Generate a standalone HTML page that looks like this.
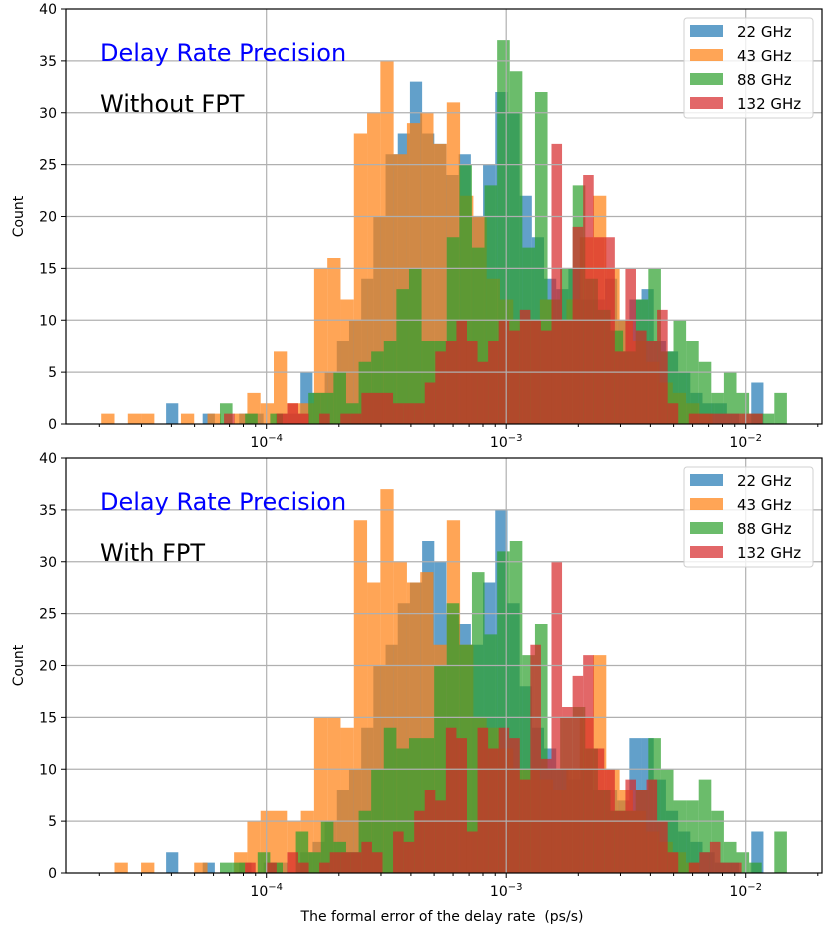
<!DOCTYPE html>
<html><head><meta charset="utf-8"><style>
html,body{margin:0;padding:0;background:#fff;}
svg{display:block;font-family:"DejaVu Sans","Liberation Sans",sans-serif;}
</style></head><body>
<svg id="chart" width="830" height="949" viewBox="0 0 830 949" xmlns="http://www.w3.org/2000/svg"></svg>
<script>
// ---- data (log10 bin starts, log10 bin widths, counts) ----
const seriesNames = ["22 GHz","43 GHz","88 GHz","132 GHz"];
const binStarts = [-4.420, -4.691, -4.195, -4.178];
const binWidths = [0.0509, 0.0555, 0.0526, 0.0441];
const topBlue = [2,0,0,1,0,0,1,1,0,1,1,5,3,5,8,10,14,20,26,28,33,28,27,24,26,20,25,32,30,22,18,14,13,15,12,12,14,10,12,13,8,7,5,3,2,2,1,0,4];
const topOrange = [1,0,1,1,0,0,1,0,1,0,1,3,2,7,2,2,15,16,12,28,30,35,26,29,30,27,31,22,20,14,12,10,10,12,10,12,18,22,15,10,8,6,4,3,2,1];
const topGreen = [2,0,1,0,1,0,0,3,3,5,2,6,7,8,13,15,8,8,18,25,17,23,37,34,17,32,12,15,23,14,11,9,7,12,15,7,10,8,6,3,5,3,1,1,3];
const topRed = [1,0,0,0,0,1,2,1,0,1,0,1,1,3,3,3,2,2,2,4,7,8,10,8,6,8,10,9,11,10,9,27,10,19,24,18,18,7,15,9,8,11,2,0,1,1,1,1,1,1,1];
const botBlue = [2,0,0,1,0,0,1,0,1,1,0,2,3,5,8,10,14,20,22,26,28,32,30,25,24,22,28,35,26,18,14,12,10,9,10,8,8,7,13,13,9,6,4,3,2,1,1,0,4];
const botOrange = [0,1,0,1,0,0,0,1,0,0,2,5,6,6,5,6,15,15,14,34,28,37,30,28,29,22,34,22,15,14,12,10,10,9,8,10,15,21,10,8,6,4,3,2,1];
const botGreen = [1,1,0,2,1,0,4,2,5,3,2,6,10,14,12,13,13,20,26,22,29,23,31,32,21,24,10,15,16,12,8,6,6,8,13,10,7,7,9,6,3,2,1,0,4];
const botRed = [0,0,1,0,1,0,2,1,0,1,2,2,2,3,2,0,4,3,6,8,7,14,13,4,14,12,14,13,9,22,11,30,16,19,21,12,10,6,9,8,9,5,2,0,1,2,3,1,1,0];
const yTicks = [0,5,10,15,20,25,30,35,40];
const xDecades = [-4,-3,-2];
const panelTexts = ["Without FPT","With FPT"];
</script>
<script>
const NS="http://www.w3.org/2000/svg";
const svg=document.getElementById('chart');
const colors=["#1f77b4","#ff7f0e","#2ca02c","#d62728"];
const X0=66,X1=822;
function xScale(l){return 266.7+(l+4)*239.5;}
function mk(tag,attrs,parent){const e=document.createElementNS(NS,tag);for(const k in attrs)e.setAttribute(k,attrs[k]);(parent||svg).appendChild(e);return e;}
function drawPanel(idx,top,bottom,data){
  const yScale=v=>bottom-(v/40)*(bottom-top);
  const g=mk('g',{});
  
  
  mk('rect',{x:X0,y:top,width:X1-X0,height:bottom-top,fill:'#fff'},g);
  const clipId='clip'+idx;
  const cp=mk('clipPath',{id:clipId},g);
  mk('rect',{x:X0,y:top,width:X1-X0,height:bottom-top},cp);
  const bars=mk('g',{'clip-path':'url(#'+clipId+')'},g);
  data.forEach((arr,s)=>{
    const sg=mk('g',{},bars);
    
    
    arr.forEach((v,i)=>{
      if(v<=0)return;
      const l0=binStarts[s]+i*binWidths[s], l1=l0+binWidths[s];
      const xa=xScale(l0), xb=xScale(l1);
      const r=mk('rect',{x:xa,y:yScale(v),width:xb-xa,height:yScale(0)-yScale(v),fill:colors[s],'fill-opacity':0.7},sg);
      
      
    });
  });
  yTicks.forEach(t=>{
    if(t>0&&t<40)mk('line',{x1:X0,x2:X1,y1:yScale(t),y2:yScale(t),stroke:'#b0b0b0','stroke-width':1.2},g);
  });
  xDecades.forEach(d=>mk('line',{x1:xScale(d),x2:xScale(d),y1:top,y2:bottom,stroke:'#b0b0b0','stroke-width':1.2},g));
  mk('rect',{x:X0,y:top,width:X1-X0,height:bottom-top,fill:'none',stroke:'#000','stroke-width':1.2},g);
  yTicks.forEach(t=>{
    const y=yScale(t);
    mk('line',{x1:X0-5,x2:X0,y1:y,y2:y,stroke:'#000','stroke-width':1},g);
    const tx=mk('text',{x:X0-9,y:y+5,'text-anchor':'end','font-size':14,fill:'#000'},g);
    tx.textContent=t;
    
    
  });
  for(let d=-5;d<=-2;d++){
    for(let m=1;m<=9;m++){
      const l=d+Math.log10(m), x=xScale(l);
      if(x<X0||x>X1)continue;
      mk('line',{x1:x,x2:x,y1:bottom,y2:bottom+(m===1?5:3),stroke:'#000','stroke-width':1},g);
    }
  }
  xDecades.forEach(d=>{
    const tx=mk('text',{x:xScale(d),y:bottom+23,'text-anchor':'middle','font-size':14,fill:'#000'},g);
    
    
    const a=mk('tspan',{},tx);a.textContent='10';
    const b=mk('tspan',{dy:-6,'font-size':10},tx);b.textContent='\u2212'+(-d);
  });
  const yl=mk('text',{x:0,y:0,'font-size':14,'text-anchor':'middle',transform:'translate(23,'+((top+bottom)/2)+') rotate(-90)'},g);
  yl.textContent='Count';
  
  
  const t1=mk('text',{x:100,y:top+52,'font-size':24,fill:'#0000ff'},g);
  t1.textContent='Delay Rate Precision';
  
  
  const t2=mk('text',{x:100,y:top+103,'font-size':24,fill:'#000'},g);
  t2.textContent=panelTexts[idx];
  
  
  const lg=mk('g',{},g);
  
  
  mk('rect',{x:684,y:top+9,width:129,height:100,rx:3,fill:'#fff','fill-opacity':0.8,stroke:'#d0d0d0','stroke-width':1},lg);
  seriesNames.forEach((n,s)=>{
    const y=top+22+s*24;
    const e=mk('g',{},lg);
    
    
    mk('rect',{x:690,y:y-6,width:33,height:12,fill:colors[s],'fill-opacity':0.7},e);
    const t=mk('text',{x:737,y:y+6,'font-size':15,fill:'#000'},e);
    t.textContent=n;
  });
}
drawPanel(0,9,424,[topBlue,topOrange,topGreen,topRed]);
drawPanel(1,458,873,[botBlue,botOrange,botGreen,botRed]);
const xl=mk('text',{x:442,y:921,'text-anchor':'middle','font-size':14,fill:'#000'});
xl.textContent='The formal error of the delay rate\u00a0 (ps/s)';


</script>
</body></html>
